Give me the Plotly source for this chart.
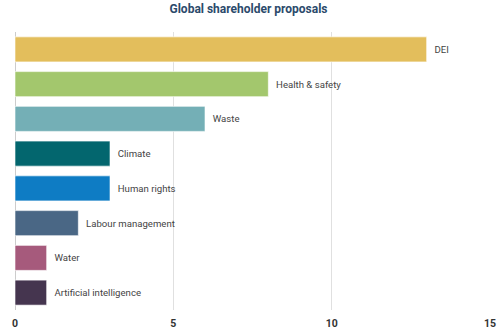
import plotly.graph_objects as go

categories = ["DEI", "Health & safety", "Waste", "Climate", "Human rights",
              "Labour management", "Water", "Artificial intelligence"]
values = [13, 8, 6, 3, 3, 2, 1, 1]
colors = ["#E3BE5C", "#A3C76D", "#74AFB6", "#03666E", "#0E7CC4",
          "#4A6785", "#A65A7C", "#45354F"]
tick_vals = [0, 5, 10, 15]

fig = go.Figure(go.Bar(
    x=values, y=categories, orientation="h",
    marker=dict(color=colors, line=dict(color="rgba(255,255,255,0.6)", width=1)),
    text=["  " + c for c in categories], textposition="outside", cliponaxis=False,
    textfont=dict(family="Roboto", size=9.6, color="#444444"),
    hoverinfo="x+y",
))

fig.update_layout(
    width=497, height=331,
    margin=dict(l=15, r=7, t=32, b=21),
    paper_bgcolor="white", plot_bgcolor="white",
    bargap=0.28,
    showlegend=False,
    title=dict(text="<b>Global shareholder proposals</b>", x=0.5, xanchor="center",
               y=0.985, yanchor="top",
               font=dict(family="Roboto", size=12, color="#2B4A6B")),
    xaxis=dict(range=[0, 15], tickvals=tick_vals, showgrid=True,
               gridcolor="#E0E0E0", gridwidth=1, zeroline=True,
               zerolinecolor="#CCCCCC", zerolinewidth=1,
               tickfont=dict(family="Roboto", size=10.5, color="#333333", weight="bold"),
               ticklabelstandoff=5, automargin=False, fixedrange=True),
    yaxis=dict(autorange="reversed", showticklabels=False, showgrid=False,
               automargin=False, fixedrange=True),
)

fig.write_html("out.html")
